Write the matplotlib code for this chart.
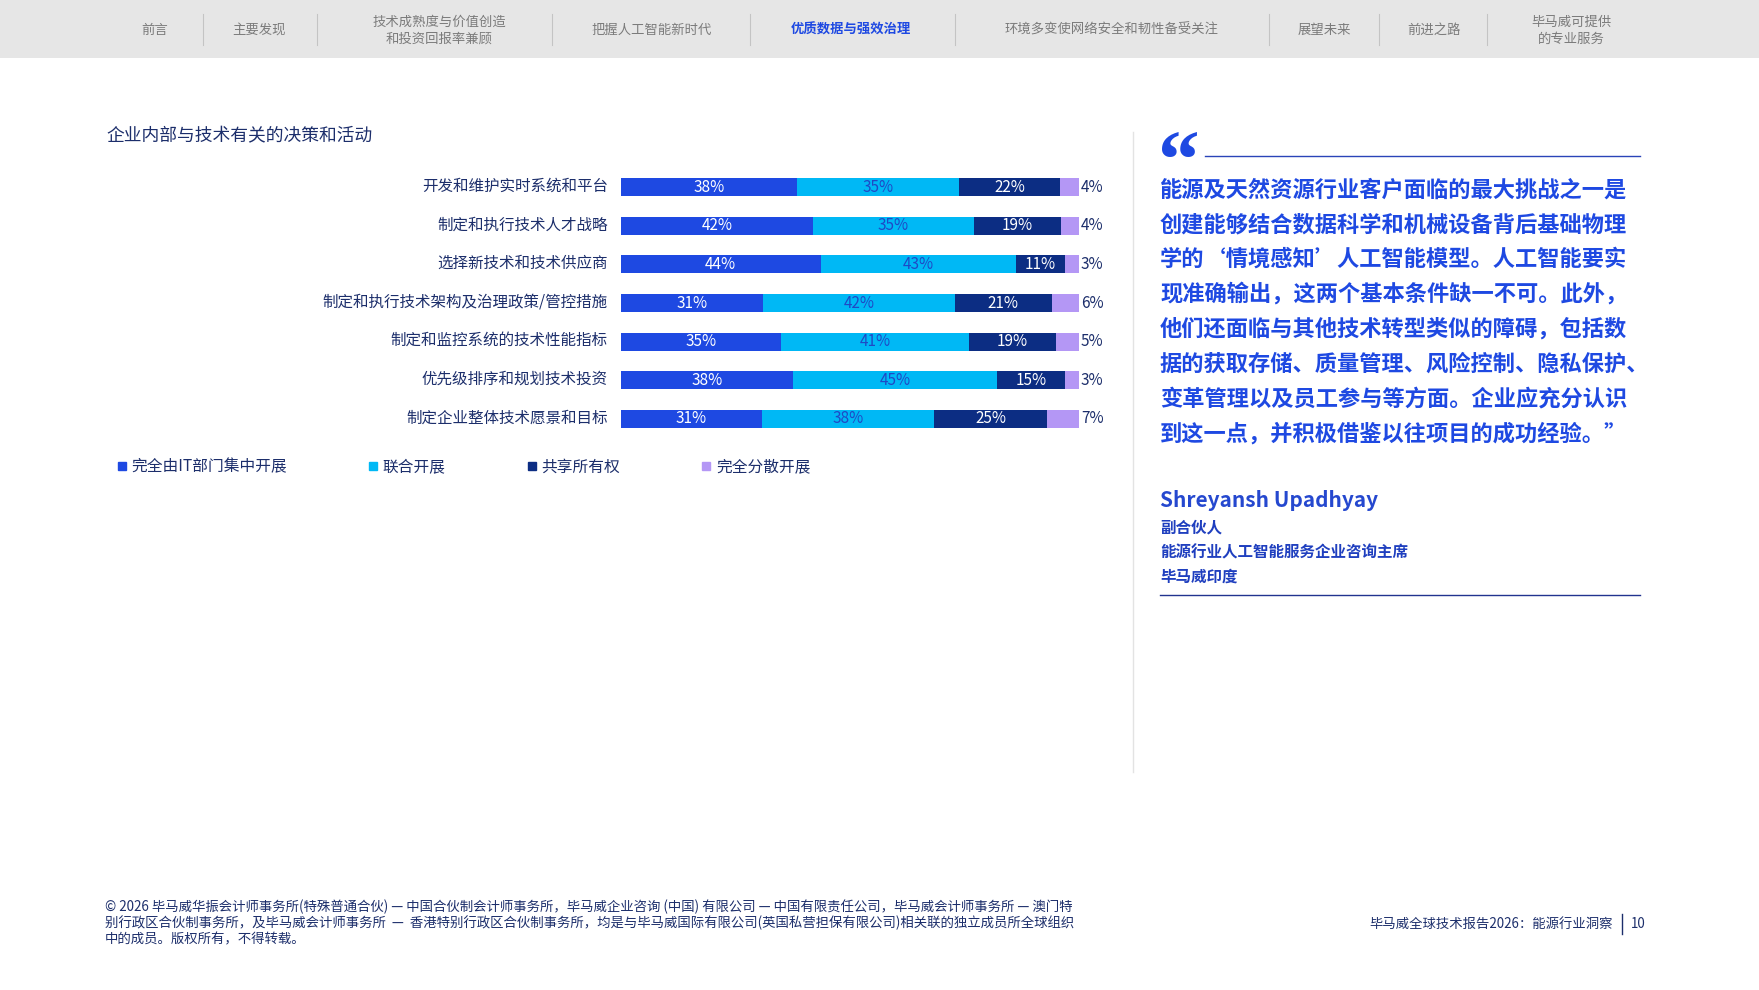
import numpy as np
import matplotlib
matplotlib.use("Agg")
import matplotlib.pyplot as plt
import matplotlib.patches as mpatches
from matplotlib.lines import Line2D
from matplotlib.transforms import ScaledTranslation

plt.rcParams['font.family'] = ['Noto Sans CJK SC', 'DejaVu Sans']

# ---- data ----
categories = ['开发和维护实时系统和平台', '制定和执行技术人才战略', '选择新技术和技术供应商',
              '制定和执行技术架构及治理政策/管控措施', '制定和监控系统的技术性能指标',
              '优先级排序和规划技术投资', '制定企业整体技术愿景和目标']
it_central = [38, 42, 44, 31, 35, 38, 31]
joint = [35, 35, 43, 42, 41, 45, 38]
shared = [22, 19, 11, 21, 19, 15, 25]
decentral = [4, 4, 3, 6, 5, 3, 7]
series_names = ['完全由IT部门集中开展', '联合开展', '共享所有权', '完全分散开展']

nav_items = ['前言', '主要发现', '技术成熟度与价值创造\n和投资回报率兼顾', '把握人工智能新时代',
             '优质数据与强效治理', '环境多变使网络安全和韧性备受关注', '展望未来', '前进之路',
             '毕马威可提供\n的专业服务']
active_item = 4

quote_lines = ['能源及天然资源行业客户面临的最大挑战之一是',
               '创建能够结合数据科学和机械设备背后基础物理',
               '学的‘情境感知’人工智能模型。人工智能要实',
               '现准确输出，这两个基本条件缺一不可。此外，',
               '他们还面临与其他技术转型类似的障碍，包括数',
               '据的获取存储、质量管理、风险控制、隐私保护、',
               '变革管理以及员工参与等方面。企业应充分认识',
               '到这一点，并积极借鉴以往项目的成功经验。”']
author = 'Shreyansh Upadhyay'
author_titles = ['副合伙人', '能源行业人工智能服务企业咨询主席', '毕马威印度']

footer_left = ['© 2026 毕马威华振会计师事务所(特殊普通合伙) — 中国合伙制会计师事务所，毕马威企业咨询 (中国) 有限公司 — 中国有限责任公司，毕马威会计师事务所 — 澳门特',
               '别行政区合伙制事务所，及毕马威会计师事务所  —  香港特别行政区合伙制事务所，均是与毕马威国际有限公司(英国私营担保有限公司)相关联的独立成员所全球组织',
               '中的成员。版权所有，不得转载。']
footer_right = '毕马威全球技术报告2026：能源行业洞察'
page_no = '10'

colors = ['#1e49e2', '#00b8f5', '#0c2d83', '#b497f5']
label_colors = ['white', '#1f49c6', 'white']
navy = '#1c2e6b'
blue = '#1e49e2'

W, H = 1759, 990


def fx(x):
    return x / W


def fy(y):
    return 1 - y / H


fig = plt.figure(figsize=(W / 100, H / 100), dpi=100, facecolor='white')

# header band
fig.add_artist(mpatches.Rectangle((0, fy(58)), 1, 58 / H, transform=fig.transFigure,
                                  facecolor='#e6e6e6', edgecolor='none'))
nav_x = [155, 259, 439, 652, 851, 1112, 1324, 1434, 1571]
sep_x = [203, 317, 552, 750, 955, 1269, 1379, 1487]
for i, (x, txt) in enumerate(zip(nav_x, nav_items)):
    act = i == active_item
    fig.text(fx(x), fy(30), txt, ha='center', va='center', fontsize=9.6,
             color=blue if act else '#7b7b7b', fontweight='bold' if act else 'normal',
             linespacing=1.25)
for x in sep_x:
    fig.add_artist(Line2D([fx(x), fx(x)], [fy(14), fy(45)], transform=fig.transFigure,
                          color='#c4c4c4', lw=0.8))

# chart title
fig.text(fx(106), fy(136), '企业内部与技术有关的决策和活动', ha='left', va='center',
         fontsize=12.8, color=navy)

# stacked bars
ax = fig.add_axes([fx(621), fy(438), (1079 - 621) / W, (438 - 168) / H])
vals = np.array([it_central, joint, shared, decentral], dtype=float)
totals = vals.sum(axis=0)
frac = vals / totals
ypos = np.arange(len(categories))
left = np.zeros(len(categories))
for k in range(4):
    ax.barh(ypos, frac[k], left=left, height=0.47, color=colors[k], label=series_names[k])
    for i in range(len(categories)):
        if k < 3:
            ax.text(left[i] + frac[k][i] / 2, ypos[i], f'{int(vals[k][i])}%', ha='center',
                    va='center', fontsize=11, color=label_colors[k])
        else:
            ax.text(1.004, ypos[i], f'{int(vals[k][i])}%', ha='left', va='center',
                    fontsize=11, color=navy)
    left = left + frac[k]

ax.set_xlim(0, 1)
ax.set_ylim(len(categories) - 0.5, -0.5)
ax.set_yticks(ypos)
ax.set_yticklabels(categories, fontsize=11.2, color=navy)
ax.tick_params(axis='y', length=0, pad=9.5)
ax.tick_params(axis='x', bottom=False, labelbottom=False)
for s in ax.spines.values():
    s.set_visible(False)
# category labels sit a little above the bar centre
lift = ScaledTranslation(0, 3 / 100, fig.dpi_scale_trans)
for t in ax.get_yticklabels():
    t.set_transform(t.get_transform() + lift)

handles = [Line2D([], [], marker='s', ls='none', ms=5.5, color=c) for c in colors]
fig.legend(handles, series_names, loc='center left', bbox_to_anchor=(fx(117), fy(467)),
           ncol=4, frameon=False, fontsize=11.3, handlelength=0.6, handletextpad=0.3,
           columnspacing=5.2, borderaxespad=0, borderpad=0, labelcolor=navy)

# divider
fig.add_artist(Line2D([fx(1133), fx(1133)], [fy(132), fy(772)], transform=fig.transFigure,
                      color='#e3e3e3', lw=1))

# quote block
fig.text(fx(1158), fy(187), '“', ha='left', va='baseline', fontsize=60,
         family='Liberation Serif', fontweight='bold', color=blue)
fig.add_artist(Line2D([fx(1205), fx(1640)], [fy(156), fy(156)], transform=fig.transFigure,
                      color='#2a44b8', lw=1))
for i, line in enumerate(quote_lines):
    fig.text(fx(1160), fy(190 + i * 34.8), line, ha='left', va='center', fontsize=16,
             fontweight='bold', color=blue)
fig.text(fx(1160), fy(500), author, ha='left', va='center', fontsize=15,
         fontweight='bold', color='#2548cf')
for i, t in enumerate(author_titles):
    fig.text(fx(1160), fy(527 + i * 25), t, ha='left', va='center', fontsize=11.2,
             fontweight='bold', color='#1f3fbf')
fig.add_artist(Line2D([fx(1160), fx(1640)], [fy(595), fy(595)], transform=fig.transFigure,
                      color='#22338f', lw=1))

# footer
for i, t in enumerate(footer_left):
    fig.text(fx(105), fy(907 + i * 16.3), t, ha='left', va='center', fontsize=9.65, color=navy)
fig.text(fx(1613), fy(924), footer_right, ha='right', va='center', fontsize=9.6, color=navy)
fig.add_artist(Line2D([fx(1622), fx(1622)], [fy(914), fy(934)], transform=fig.transFigure,
                      color=navy, lw=1))
fig.text(fx(1631), fy(924), page_no, ha='left', va='center', fontsize=9.6, color=navy)

fig.savefig('out.png', dpi=100, facecolor='white')
